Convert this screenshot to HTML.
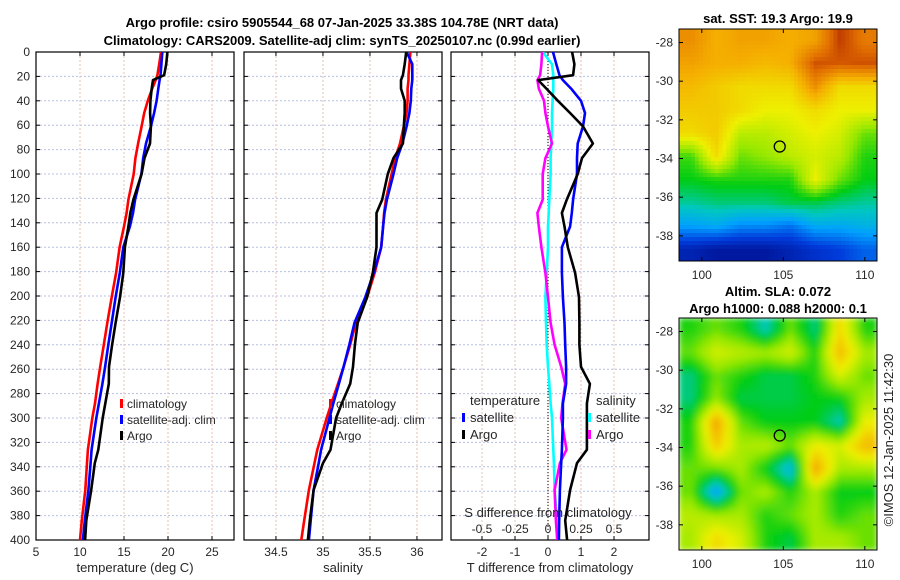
<!DOCTYPE html>
<html><head><meta charset="utf-8"><style>
body{margin:0;background:#fff;}
svg{display:block;font-family:"Liberation Sans","DejaVu Sans",sans-serif;}
text{fill:#262626;}
.b{font-weight:bold;fill:#000;font-size:13px;}
.t{font-size:12px;}
</style></head><body>
<svg id="s" width="900" height="580" viewBox="0 0 900 580">
<defs>
<clipPath id="c1"><rect x="679" y="29" width="198" height="232"/></clipPath>
<clipPath id="c2"><rect x="679" y="318" width="198" height="232"/></clipPath>
<clipPath id="cp1"><rect x="36" y="52" width="198" height="488"/></clipPath>
<clipPath id="cp2"><rect x="244" y="52" width="198" height="488"/></clipPath>
<clipPath id="cp3"><rect x="451" y="52" width="198" height="488"/></clipPath>
<filter id="bl" x="-5%" y="-5%" width="110%" height="110%"><feGaussianBlur stdDeviation="3"/></filter>
</defs>
<text class="b" x="342" y="27" text-anchor="middle">Argo profile: csiro 5905544_68 07-Jan-2025 33.38S 104.78E (NRT data)</text>
<text class="b" x="342" y="45" text-anchor="middle">Climatology: CARS2009. Satellite-adj clim: synTS_20250107.nc (0.99d earlier)</text>
<g id="g"></g>
</svg>
<script>
const depths=[0,10,19,23,30,40,50,61,75,87,100,121,132,143,160,181,201,222,240,258,272,288,300,326,337,359,384,400];
const climT=[19.2,19.0,18.8,18.6,18.2,17.7,17.3,17.0,16.6,16.3,16.1,15.5,15.3,15.0,14.5,14.1,13.6,13.1,12.7,12.3,12.0,11.7,11.4,10.9,10.8,10.6,10.2,10.0];
const satTdiff=[0.15,0.25,0.35,0.45,0.7,1.0,1.12,1.06,0.9,0.88,0.88,0.76,0.72,0.67,0.42,0.42,0.45,0.5,0.52,0.55,0.55,0.45,0.45,0.42,0.4,0.36,0.34,0.33];
const argoTdiff=[0.73,0.8,0.76,-0.3,-0.05,0.3,0.67,1.06,1.36,1.03,0.9,0.57,0.42,0.5,0.6,0.82,0.94,0.95,0.95,1.0,1.27,1.18,1.18,1.18,0.88,0.67,0.52,0.58];
const climS=[35.93,35.92,35.91,35.91,35.9,35.9,35.89,35.86,35.82,35.77,35.73,35.67,35.65,35.64,35.62,35.55,35.47,35.35,35.29,35.22,35.16,35.09,35.04,34.94,34.91,34.85,34.8,34.77];
const satSdiff=[-0.04,0.03,0.04,0.04,0.04,0.035,0.03,0.03,0.025,0.02,0.02,0.01,0.005,0.0,0.0,-0.01,-0.02,-0.015,-0.01,0.0,0.01,0.02,0.03,0.04,0.045,0.05,0.07,0.08];
const argoSdiff=[-0.045,-0.05,-0.06,-0.08,-0.07,-0.03,-0.02,0.0,0.03,-0.02,-0.04,-0.04,-0.08,-0.07,-0.05,-0.02,0.0,0.02,0.05,0.1,0.13,0.11,0.1,0.14,0.09,0.05,0.06,0.07];
const depthTicks=[0,20,40,60,80,100,120,140,160,180,200,220,240,260,280,300,320,340,360,380,400];
const tTicks=[5,10,15,20,25];
const sTicks=[34.5,35,35.5,36];
const tdTicks=[-2,-1,0,1,2];
const tdLabels=["-2","-1","0","1","2"];
const sdTicks=[-0.5,-0.25,0,0.25,0.5];
const sdLabels=["-0.5","-0.25","0","0.25","0.5"];
const lonTicks=[100,105,110];
const latTicks=[-28,-30,-32,-34,-36,-38];
const sstGrid=[
[0.85,0.8,0.82,0.82,0.8,0.82,0.95,0.88],
[0.82,0.8,0.8,0.78,0.8,0.93,0.92,0.93],
[0.78,0.75,0.72,0.72,0.72,0.85,0.72,0.72],
[0.75,0.75,0.72,0.68,0.68,0.72,0.68,0.68],
[0.72,0.75,0.62,0.62,0.65,0.68,0.65,0.55],
[0.52,0.72,0.55,0.58,0.62,0.65,0.62,0.5],
[0.48,0.5,0.5,0.5,0.5,0.68,0.55,0.48],
[0.4,0.42,0.42,0.42,0.45,0.45,0.42,0.4],
[0.28,0.3,0.25,0.25,0.22,0.3,0.3,0.32],
[0.08,0.05,0.05,0.05,0.08,0.12,0.15,0.2]];
const slaGrid=[
[0.5,0.55,0.5,0.38,0.55,0.42,0.72,0.5],
[0.55,0.65,0.62,0.6,0.65,0.5,0.78,0.6],
[0.42,0.55,0.5,0.45,0.45,0.5,0.65,0.55],
[0.42,0.58,0.45,0.45,0.45,0.48,0.48,0.6],
[0.5,0.82,0.55,0.48,0.48,0.48,0.38,0.68],
[0.5,0.75,0.6,0.62,0.55,0.68,0.65,0.78],
[0.55,0.55,0.6,0.48,0.32,0.82,0.6,0.6],
[0.55,0.28,0.55,0.6,0.5,0.6,0.48,0.48],
[0.62,0.6,0.6,0.5,0.55,0.6,0.5,0.55],
[0.6,0.72,0.65,0.5,0.45,0.6,0.6,0.55]];
const argoLon=104.78, argoLat=-33.38;

const NS="http://www.w3.org/2000/svg";
const G=document.getElementById('g');
function mk(tag,at,parent){const e=document.createElementNS(NS,tag);for(const k in at)e.setAttribute(k,at[k]);(parent||G).appendChild(e);return e;}
const Y=d=>52+d*1.22;
const XT=v=>36+(v-5)*8.8;
const XS=v=>244+(v-34.16)*94;
const XD=v=>548+v*33;
const XSD=v=>548+v*132;
const LX=v=>679+(v-98.6)*16.3;
const LY1=v=>29+(-27.3-v)*19.33;
const LY2=v=>318+(-27.3-v)*19.33;

function panel(x0,name,xs,ticks,labels){
  const g=mk('g',{});
  
  
  depthTicks.forEach(d=>{const l=mk('line',{x1:x0,x2:x0+198,y1:Y(d),y2:Y(d),stroke:'#b8bfe6','stroke-width':1,'stroke-dasharray':'2,2'},g);});
  ticks.forEach(t=>{const l=mk('line',{x1:xs(t),x2:xs(t),y1:52,y2:540,stroke:'#e8c0b0','stroke-width':1,'stroke-dasharray':'2,2'},g);
    mk('line',{x1:xs(t),x2:xs(t),y1:540,y2:536,stroke:'#000'},g);mk('line',{x1:xs(t),x2:xs(t),y1:52,y2:56,stroke:'#000'},g);
    if(labels){const tx=mk('text',{x:xs(t),y:556,'text-anchor':'middle',class:'t'},g);tx.textContent=labels(t);}
  });
  depthTicks.forEach(d=>{mk('line',{x1:x0,x2:x0+4,y1:Y(d),y2:Y(d),stroke:'#000'},g);mk('line',{x1:x0+198,x2:x0+194,y1:Y(d),y2:Y(d),stroke:'#000'},g);});
  const r=mk('rect',{x:x0,y:52,width:198,height:488,fill:'none',stroke:'#000','stroke-width':1.2},g);
  
  return g;
}
function line(vals,xs,color,name,clip,w){
  const pts=vals.map((v,i)=>xs(v).toFixed(1)+','+Y(depths[i]).toFixed(1)).join(' ');
  const p=mk('polyline',{points:pts,fill:'none',stroke:color,'stroke-width':w||2.6,'stroke-linejoin':'round','clip-path':'url(#'+clip+')'});
  
  
}
panel(36,'temperature-panel',XT,tTicks,t=>String(t));
panel(244,'salinity-panel',XS,sTicks,t=>String(t));
panel(451,'difference-panel',XD,tdTicks,t=>tdLabels[tdTicks.indexOf(t)]);
depthTicks.forEach(d=>{const t=mk('text',{x:30,y:Y(d)+4,'text-anchor':'end',class:'t'});t.textContent=d;});

const satT=climT.map((v,i)=>v+satTdiff[i]);
const argoT=climT.map((v,i)=>v+argoTdiff[i]);
const satS=climS.map((v,i)=>v+satSdiff[i]);
const argoS=climS.map((v,i)=>v+argoSdiff[i]);
line(climT,XT,'#ff0000','temp-climatology-line','cp1');
line(satT,XT,'#0000ff','temp-satellite-line','cp1');
line(argoT,XT,'#000000','temp-argo-line','cp1');
line(climS,XS,'#ff0000','sal-climatology-line','cp2');
line(satS,XS,'#0000ff','sal-satellite-line','cp2');
line(argoS,XS,'#000000','sal-argo-line','cp2');
const zl=mk('line',{x1:XD(0),x2:XD(0),y1:52,y2:540,stroke:'#000','stroke-dasharray':'1,2'});

line(satSdiff,XSD,'#00ffff','sal-satellite-diff-line','cp3');
line(argoSdiff,XSD,'#ff00ff','sal-argo-diff-line','cp3');
line(satTdiff,XD,'#0000ff','temp-satellite-diff-line','cp3');
line(argoTdiff,XD,'#000000','temp-argo-diff-line','cp3');

function txt(x,y,s,name,extra){const t=mk('text',Object.assign({x:x,y:y,class:'t'},extra||{}));t.textContent=s;return t;}
function mark(x,y,c){const r=mk('rect',{x:x,y:y-9,width:3,height:9,fill:c});}
txt(135,572,'temperature (deg C)','x-axis-title-temperature',{'text-anchor':'middle',style:'font-size:13px'});
txt(343,572,'salinity','x-axis-title-salinity',{'text-anchor':'middle',style:'font-size:13px'});
txt(550,572,'T difference from climatology','x-axis-title-tdiff',{'text-anchor':'middle',style:'font-size:13px'});
txt(548,517,'S difference from climatology','s-diff-axis-title',{'text-anchor':'middle',style:'font-size:13px'});
sdTicks.forEach((t,i)=>txt(XSD(t),533,sdLabels[i],'s-diff-tick-label',{'text-anchor':'middle'}));
mark(120,408,'#ff0000');txt(127,408,'climatology','legend-climatology');
mark(120,424,'#0000ff');txt(127,424,'satellite-adj. clim','legend-satellite-adj');
mark(120,440,'#000');txt(127,440,'Argo','legend-argo');
mark(329,408,'#ff0000');txt(336,408,'climatology','legend-climatology-2');
mark(329,424,'#0000ff');txt(336,424,'satellite-adj. clim','legend-satellite-adj-2');
mark(329,440,'#000');txt(336,440,'Argo','legend-argo-2');
txt(470,405,'temperature','legend-temperature-heading',{style:'font-size:13px'});
mark(462,422,'#0000ff');txt(470,422,'satellite','legend-temp-satellite',{style:'font-size:13px'});
mark(462,439,'#000');txt(470,439,'Argo','legend-temp-argo',{style:'font-size:13px'});
txt(596,405,'salinity','legend-salinity-heading',{style:'font-size:13px'});
mark(588,422,'#00ffff');txt(596,422,'satellite','legend-sal-satellite',{style:'font-size:13px'});
mark(588,439,'#ff00ff');txt(596,439,'Argo','legend-sal-argo',{style:'font-size:13px'});

const stops=[[0,[0,8,130]],[0.15,[0,60,220]],[0.28,[0,160,255]],[0.38,[0,200,190]],[0.48,[0,205,20]],[0.58,[150,232,0]],[0.68,[238,240,0]],[0.8,[245,175,0]],[0.9,[225,110,0]],[1,[160,10,0]]];
function cmap(v){v=Math.max(0,Math.min(1,v));for(let i=1;i<stops.length;i++){if(v<=stops[i][0]){const a=stops[i-1],b=stops[i],f=(v-a[0])/(b[0]-a[0]);return 'rgb('+a[1].map((c,k)=>Math.round(c+(b[1][k]-c)*f)).join(',')+')';}}return 'rgb(160,10,0)';}
function sample(grid,fx,fy){
  const rows=grid.length,cols=grid[0].length;
  let gx=fx*cols-0.5,gy=fy*rows-0.5;
  gx=Math.max(0,Math.min(cols-1,gx));gy=Math.max(0,Math.min(rows-1,gy));
  const x0=Math.floor(gx),y0=Math.floor(gy),x1=Math.min(cols-1,x0+1),y1=Math.min(rows-1,y0+1),tx=gx-x0,ty=gy-y0;
  return grid[y0][x0]*(1-tx)*(1-ty)+grid[y0][x1]*tx*(1-ty)+grid[y1][x0]*(1-tx)*ty+grid[y1][x1]*tx*ty;
}
function map(grid,y0,ly,clip,name,blur,nx,ny){
  const g=mk('g',{'clip-path':'url(#'+clip+')'});
  
  const inner=mk('g',blur?{filter:'url(#bl)'}:{},g);
  const cw=198/nx,ch=232/ny;
  for(let r=0;r<ny;r++)for(let c=0;c<nx;c++){
    const v=sample(grid,(c+0.5)/nx,(r+0.5)/ny);
    const e=mk('rect',{x:(679+c*cw).toFixed(2),y:(y0+r*ch).toFixed(2),width:(cw+0.5).toFixed(2),height:(ch+0.5).toFixed(2),fill:cmap(v)},inner);
    
  }
  const m=mk('circle',{cx:LX(argoLon),cy:ly(argoLat),r:5.5,fill:'none',stroke:'#000','stroke-width':1.3});
  
  const fr=mk('rect',{x:679,y:y0,width:198,height:232,fill:'none',stroke:'#000','stroke-width':1});
  
  lonTicks.forEach(t=>{mk('line',{x1:LX(t),x2:LX(t),y1:y0+232,y2:y0+228,stroke:'#000'});mk('line',{x1:LX(t),x2:LX(t),y1:y0,y2:y0+4,stroke:'#000'});txt(LX(t),y0+250,String(t),'lon-tick-label',{'text-anchor':'middle'});});
  latTicks.forEach(t=>{mk('line',{x1:679,x2:683,y1:ly(t),y2:ly(t),stroke:'#000'});mk('line',{x1:877,x2:873,y1:ly(t),y2:ly(t),stroke:'#000'});txt(673,ly(t)+4,String(t),'lat-tick-label',{'text-anchor':'end'});});
}
map(sstGrid,29,LY1,'c1','sst-map',false,50,58);
map(slaGrid,318,LY2,'c2','sla-map',true,40,46);
txt(778,23,'sat. SST: 19.3 Argo: 19.9','sst-map-title',{'text-anchor':'middle',class:'b'});
txt(778,296,'Altim. SLA: 0.072','sla-map-title-1',{'text-anchor':'middle',class:'b'});
txt(778,313,'Argo h1000: 0.088 h2000: 0.1','sla-map-title-2',{'text-anchor':'middle',class:'b'});
txt(893,440,'©IMOS 12-Jan-2025 11:42:30','imos-timestamp',{'text-anchor':'middle',transform:'rotate(-90 893 440)',style:'font-size:13px'});
</script>
</body></html>
